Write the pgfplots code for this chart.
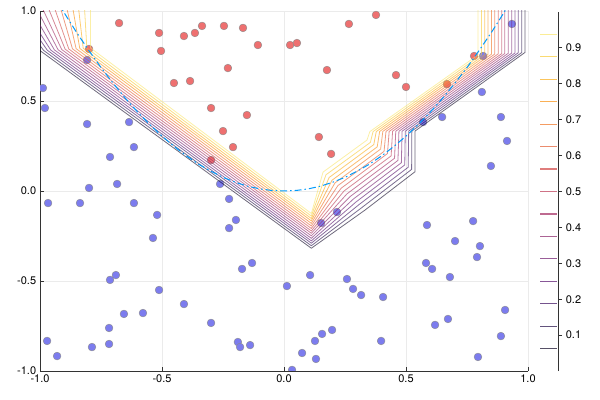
\documentclass[border=0pt]{standalone}
\usepackage{pgfplots}
\pgfplotsset{compat=1.18}
\usepackage{fontspec}
\setmainfont{TeX Gyre Heros}
\definecolor{c1}{RGB}{15,7,38}
\definecolor{c2}{RGB}{33,12,70}
\definecolor{c3}{RGB}{59,12,94}
\definecolor{c4}{RGB}{86,16,108}
\definecolor{c5}{RGB}{111,25,109}
\definecolor{c6}{RGB}{137,34,104}
\definecolor{c7}{RGB}{162,43,97}
\definecolor{c8}{RGB}{186,56,83}
\definecolor{c9}{RGB}{209,70,68}
\definecolor{c10}{RGB}{226,91,49}
\definecolor{c11}{RGB}{240,114,31}
\definecolor{c12}{RGB}{248,143,14}
\definecolor{c13}{RGB}{250,172,23}
\definecolor{c14}{RGB}{248,202,54}
\definecolor{c15}{RGB}{249,229,106}
\definecolor{ptred}{RGB}{238,112,112}
\definecolor{ptblue}{RGB}{124,124,238}
\definecolor{curve}{RGB}{0,154,250}
\begin{document}
\fontsize{11bp}{13bp}\selectfont
\begin{tikzpicture}
\useasboundingbox (0,0) rectangle (600bp,400bp);
\begin{axis}[
  at={(40bp,29bp)}, anchor=south west,
  width=488bp, height=360bp, scale only axis,
  xmin=-1, xmax=1, ymin=-1, ymax=1, enlargelimits=false,
  axis x line*=bottom, axis y line*=left,
  axis line style={-, black!80, line width=0.8bp},
  xtick={-1,-0.5,0,0.5,1}, xticklabels={-1.0,-0.5,0.0,0.5,1.0},
  ytick={-1,-0.5,0,0.5,1}, yticklabels={-1.0,-0.5,0.0,0.5,1.0},
  tick align=inside, major tick length=4bp,
  tick style={black!80, line width=0.8bp},
  grid=major, grid style={black!8, line width=0.5bp},
  tick label style={font=\fontsize{11bp}{13bp}\selectfont},
  clip marker paths=true,
]
% blue points
\addplot[only marks, mark=*, mark size=3.9bp, mark options={fill=ptblue, draw=black!45, line width=0.4bp}] coordinates {
(-0.988,0.572) (-0.980,0.461) (-0.807,0.372) (-0.635,0.383) (-0.615,0.244)
(-0.713,0.189) (-0.799,0.017) (-0.684,0.039) (-0.807,0.728) (-0.262,0.039)
(-0.225,-0.044) (0.570,0.383) (0.648,0.411) (0.811,0.550) (0.816,0.750)
(0.934,0.928) (0.889,0.411) (0.914,0.278) (0.848,0.139) (-0.967,-0.067)
(-0.836,-0.067) (-0.615,-0.067) (-0.520,-0.133) (-0.537,-0.261) (-0.197,-0.161)
(-0.225,-0.206) (-0.131,-0.400) (-0.172,-0.433) (-0.689,-0.467) (-0.713,-0.494)
(-0.512,-0.550) (-0.656,-0.683) (-0.578,-0.678) (-0.410,-0.628) (-0.717,-0.761)
(-0.299,-0.733) (-0.971,-0.833) (-0.930,-0.917) (-0.787,-0.867) (-0.717,-0.850)
(-0.189,-0.839) (-0.180,-0.867) (-0.139,-0.856) (0.107,-0.467) (0.012,-0.528)
(0.258,-0.489) (0.283,-0.544) (0.316,-0.578) (0.406,-0.589) (0.127,-0.833)
(0.156,-0.794) (0.197,-0.772) (0.074,-0.900) (0.131,-0.933) (0.033,-0.994)
(0.398,-0.833) (0.586,-0.189) (0.775,-0.167) (0.701,-0.278) (0.803,-0.306)
(0.791,-0.367) (0.582,-0.400) (0.607,-0.433) (0.680,-0.478) (0.906,-0.661)
(0.672,-0.711) (0.619,-0.744) (0.889,-0.806) (0.795,-0.922) (0.217,-0.117)
(0.152,-0.178)
};
% red points
\addplot[only marks, mark=*, mark size=3.9bp, mark options={fill=ptred, draw=black!45, line width=0.4bp}] coordinates {
(-0.676,0.933) (-0.512,0.878) (-0.504,0.778) (-0.410,0.861) (-0.365,0.878)
(-0.336,0.917) (-0.246,0.917) (-0.168,0.906) (-0.107,0.811) (-0.230,0.683)
(-0.451,0.600) (-0.385,0.611) (-0.299,0.461) (-0.152,0.422) (-0.250,0.333)
(-0.209,0.244) (-0.299,0.172) (-0.799,0.789) (0.025,0.811) (0.053,0.822)
(0.266,0.928) (0.377,0.978) (0.176,0.672) (0.459,0.644) (0.500,0.578)
(0.668,0.594) (0.779,0.750) (0.143,0.300) (0.193,0.206)
};
% contour lines (levels 1/16 ... 15/16)
\pgfplotsset{cont/.style={draw=#1, draw opacity=0.6, line width=0.8bp, mark=none}}
\addplot[cont=c1] coordinates {(-1.162,1.05) (-1.000,0.780) (0.112,-0.318) (0.332,-0.106) (0.537,0.107) (0.537,0.333) (0.988,0.770) (0.988,1.05)};
\addplot[cont=c2] coordinates {(-1.135,1.05) (-0.985,0.781) (0.112,-0.304) (0.320,-0.091) (0.523,0.120) (0.524,0.333) (0.974,0.769) (0.974,1.05)};
\addplot[cont=c3] coordinates {(-1.108,1.05) (-0.970,0.782) (0.112,-0.290) (0.307,-0.076) (0.509,0.132) (0.511,0.333) (0.960,0.768) (0.960,1.05)};
\addplot[cont=c4] coordinates {(-1.082,1.05) (-0.956,0.783) (0.112,-0.277) (0.295,-0.061) (0.495,0.145) (0.497,0.332) (0.947,0.767) (0.947,1.05)};
\addplot[cont=c5] coordinates {(-1.055,1.05) (-0.941,0.784) (0.112,-0.263) (0.283,-0.046) (0.481,0.157) (0.484,0.332) (0.933,0.766) (0.933,1.05)};
\addplot[cont=c6] coordinates {(-1.028,1.05) (-0.926,0.785) (0.112,-0.249) (0.271,-0.031) (0.467,0.170) (0.471,0.332) (0.919,0.765) (0.919,1.05)};
\addplot[cont=c7] coordinates {(-1.002,1.05) (-0.911,0.786) (0.112,-0.235) (0.258,-0.016) (0.453,0.182) (0.458,0.332) (0.905,0.764) (0.905,1.05)};
\addplot[cont=c8] coordinates {(-0.976,1.05) (-0.897,0.788) (0.112,-0.222) (0.246,0.000) (0.439,0.195) (0.445,0.332) (0.892,0.763) (0.892,1.05)};
\addplot[cont=c9] coordinates {(-0.949,1.05) (-0.882,0.789) (0.112,-0.208) (0.234,0.015) (0.424,0.208) (0.431,0.331) (0.878,0.762) (0.878,1.05)};
\addplot[cont=c10] coordinates {(-0.923,1.05) (-0.867,0.790) (0.112,-0.194) (0.221,0.030) (0.410,0.220) (0.418,0.331) (0.864,0.761) (0.864,1.05)};
\addplot[cont=c11] coordinates {(-0.896,1.05) (-0.852,0.791) (0.112,-0.180) (0.209,0.045) (0.396,0.233) (0.405,0.331) (0.850,0.760) (0.850,1.05)};
\addplot[cont=c12] coordinates {(-0.870,1.05) (-0.837,0.792) (0.112,-0.166) (0.197,0.060) (0.382,0.245) (0.392,0.331) (0.836,0.759) (0.836,1.05)};
\addplot[cont=c13] coordinates {(-0.845,1.05) (-0.823,0.793) (0.112,-0.153) (0.185,0.075) (0.368,0.258) (0.378,0.330) (0.823,0.758) (0.823,1.05)};
\addplot[cont=c14] coordinates {(-0.819,1.05) (-0.808,0.794) (0.112,-0.139) (0.172,0.090) (0.354,0.270) (0.365,0.330) (0.809,0.757) (0.809,1.05)};
\addplot[cont=c15] coordinates {(-0.793,1.05) (-0.793,0.795) (0.112,-0.125) (0.160,0.105) (0.340,0.283) (0.352,0.330) (0.795,0.756) (0.795,1.05)};
% dash-dot boundary curve
\addplot[curve, line width=1bp, mark=none, dash pattern=on 7bp off 3bp on 1.5bp off 3bp] coordinates {
(-0.93,1.055) (-0.90,0.988) (-0.85,0.881) (-0.80,0.781) (-0.75,0.686) (-0.70,0.598)
(-0.65,0.515) (-0.60,0.439) (-0.55,0.369) (-0.50,0.305) (-0.45,0.247) (-0.40,0.195)
(-0.35,0.149) (-0.30,0.110) (-0.25,0.076) (-0.20,0.049) (-0.15,0.027) (-0.10,0.012)
(-0.05,0.003) (0.00,0.000) (0.05,0.003) (0.10,0.012) (0.15,0.027) (0.20,0.049)
(0.25,0.076) (0.30,0.110) (0.35,0.149) (0.40,0.195) (0.45,0.247) (0.50,0.305)
(0.55,0.369) (0.60,0.439) (0.65,0.515) (0.70,0.598) (0.75,0.686) (0.80,0.781)
(0.85,0.881) (0.90,0.988) (0.93,1.055)
};
\end{axis}
% colorbar
\begin{axis}[
  at={(540bp,29bp)}, anchor=south west,
  width=18bp, height=359bp, scale only axis,
  xmin=0, xmax=1.05, ymin=0, ymax=1, enlargelimits=false,
  axis x line=none, axis y line*=right,
  axis line style={-, black!80, line width=0.8bp},
  ytick={0.1,0.2,0.3,0.4,0.5,0.6,0.7,0.8,0.9},
  yticklabels={0.1,0.2,0.3,0.4,0.5,0.6,0.7,0.8,0.9},
  ytick pos=right, tick align=outside, major tick length=4bp,
  tick style={black!80, line width=0.8bp},
  tick label style={font=\fontsize{11bp}{13bp}\selectfont},
  clip=false,
]
\pgfplotsset{cb/.style={draw=#1, draw opacity=0.7, line width=1.2bp, mark=none}}
\addplot[cb=c1] coordinates {(0,0.0625) (1,0.0625)};
\addplot[cb=c2] coordinates {(0,0.1250) (1,0.1250)};
\addplot[cb=c3] coordinates {(0,0.1875) (1,0.1875)};
\addplot[cb=c4] coordinates {(0,0.2500) (1,0.2500)};
\addplot[cb=c5] coordinates {(0,0.3125) (1,0.3125)};
\addplot[cb=c6] coordinates {(0,0.3750) (1,0.3750)};
\addplot[cb=c7] coordinates {(0,0.4375) (1,0.4375)};
\addplot[cb=c8] coordinates {(0,0.5000) (1,0.5000)};
\addplot[cb=c9] coordinates {(0,0.5625) (1,0.5625)};
\addplot[cb=c10] coordinates {(0,0.6250) (1,0.6250)};
\addplot[cb=c11] coordinates {(0,0.6875) (1,0.6875)};
\addplot[cb=c12] coordinates {(0,0.7500) (1,0.7500)};
\addplot[cb=c13] coordinates {(0,0.8125) (1,0.8125)};
\addplot[cb=c14] coordinates {(0,0.8750) (1,0.8750)};
\addplot[cb=c15] coordinates {(0,0.9375) (1,0.9375)};
\end{axis}
\end{tikzpicture}
\end{document}
